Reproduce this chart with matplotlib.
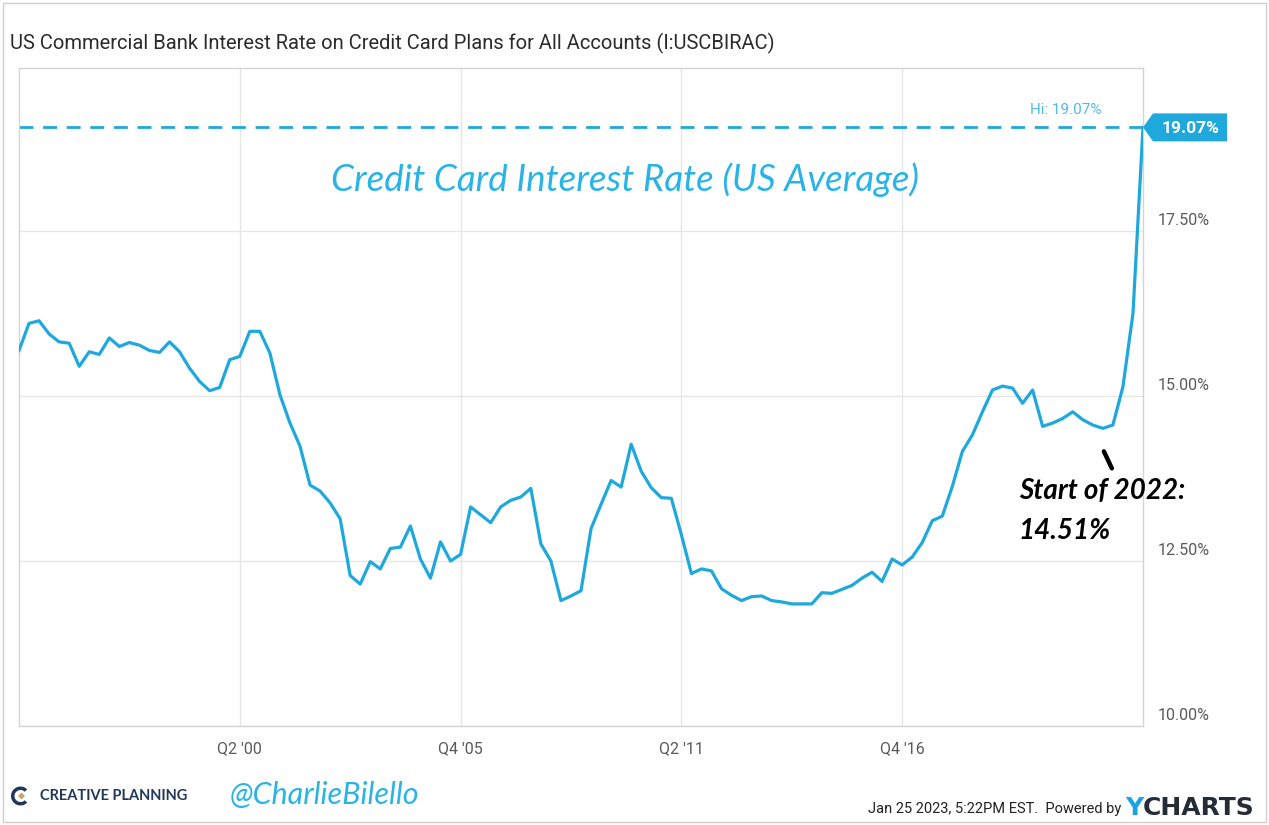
import matplotlib
matplotlib.use("Agg")
import matplotlib.pyplot as plt
import matplotlib.transforms as mtransforms
from matplotlib.patches import Polygon, Wedge, Rectangle
from matplotlib.lines import Line2D
import numpy as np
import pandas as pd

# Quarterly average credit card interest rate, all accounts (%), Q4 1994 - Q4 2022
rates = [
    15.69, 16.10, 16.14, 15.94, 15.82, 15.80, 15.45, 15.67, 15.63, 15.88,
    15.75, 15.81, 15.77, 15.69, 15.66, 15.82, 15.67, 15.42, 15.22, 15.08,
    15.13, 15.55, 15.60, 15.98, 15.98, 15.65, 15.02, 14.59, 14.24, 13.65,
    13.56, 13.38, 13.14, 12.28, 12.15, 12.49, 12.38, 12.69, 12.71, 13.03,
    12.53, 12.24, 12.79, 12.50, 12.60, 13.32, 13.20, 13.08, 13.32, 13.42,
    13.47, 13.60, 12.76, 12.50, 11.90, 11.97, 12.05, 12.99, 13.36, 13.72,
    13.62, 14.27, 13.86, 13.61, 13.46, 13.45, 12.90, 12.31, 12.38, 12.35,
    12.08, 11.98, 11.90, 11.96, 11.97, 11.90, 11.88, 11.85, 11.85, 11.85,
    12.02, 12.01, 12.07, 12.13, 12.24, 12.33, 12.19, 12.53, 12.44, 12.56,
    12.78, 13.11, 13.18, 13.63, 14.16, 14.41, 14.76, 15.09, 15.15, 15.12,
    14.89, 15.09, 14.54, 14.59, 14.66, 14.76, 14.64, 14.56, 14.51, 14.56,
    15.14, 16.25, 19.07,
]
first_quarter = "1994Q4"
tick_quarters = ["2000Q2", "2005Q4", "2011Q2", "2016Q4"]
tick_labels = ["Q2 '00", "Q4 '05", "Q2 '11", "Q4 '16"]
y_ticks = [10.0, 12.5, 15.0, 17.5]
y_tick_labels = ["10.00%", "12.50%", "15.00%", "17.50%"]
callout_quarter = "2021Q4"

title = "US Commercial Bank Interest Rate on Credit Card Plans for All Accounts (I:USCBIRAC)"
headline = "Credit Card Interest Rate (US Average)"
footer_stamp = "Jan 25 2023, 5:22PM EST.  Powered by "

BLUE = "#1fa8dc"
LIGHT_BLUE = "#4cbbe8"
GRID = "#e6e6e6"
SPINE = "#d4d4d4"
TICK_TEXT = "#5a5a5a"
NAVY = "#21385b"

COND = ["Liberation Sans Narrow", "Roboto", "DejaVu Sans"]
HAND = ["Lato", "DejaVu Sans"]


def quarter_to_year(p):
    p = pd.Period(p, freq="Q")
    return p.year + (p.quarter - 1) / 4


periods = pd.period_range(first_quarter, periods=len(rates), freq="Q")
x = np.array([quarter_to_year(p) for p in periods])
y = np.array(rates)

W, H = 1269, 825
fig = plt.figure(figsize=(W / 100, H / 100), dpi=100)
fig.patch.set_facecolor("white")

# plot area in pixel terms
left, right, top, bottom = 19, 1143, 68, 726
ax = fig.add_axes([left / W, 1 - bottom / H, (right - left) / W, (bottom - top) / H])
ax.set_xlim(x[0], x[-1])
ax.set_ylim(10, 10 + (bottom - top) / 66.0)

for s in ax.spines.values():
    s.set_color(SPINE)
    s.set_linewidth(1.0)

ax.set_yticks(y_ticks)
ax.set_xticks([quarter_to_year(q) for q in tick_quarters], tick_labels)
ax.grid(True, color=GRID, linewidth=1.0, zorder=0)
ax.tick_params(axis="y", length=0, labelleft=False, labelright=False)
ax.tick_params(axis="x", length=0, pad=11, labelcolor=TICK_TEXT, labelsize=11.5)
for lbl in ax.get_xticklabels():
    lbl.set_fontfamily(COND)

# right-hand value labels sitting just above their gridlines
for v, lab in zip(y_ticks, y_tick_labels):
    ax.annotate(lab, xy=(1, v), xycoords=("axes fraction", "data"),
                xytext=(15, 10), textcoords="offset pixels",
                ha="left", va="center", fontsize=11.5, color=TICK_TEXT,
                family=COND, annotation_clip=False)

# the series
ax.plot(x, y, color=BLUE, linewidth=2.3, solid_joinstyle="round", zorder=3)

# high-water mark
hi = y.max()
x_hi = x[np.argmax(y)]
ax.axhline(hi, color=BLUE, linewidth=2.0, dashes=(5, 3.5), zorder=2)
ax.annotate(f"Hi: {hi:.2f}%", xy=(x_hi, hi), xytext=(-41, 17),
            textcoords="offset pixels", ha="right", va="center",
            fontsize=11, color=LIGHT_BLUE, family=COND, annotation_clip=False)

# last-value tag on the right edge
tag_trans = fig.dpi_scale_trans + mtransforms.ScaledTranslation(x[-1], y[-1], ax.transData)
tag = Polygon([(0, 0), (0.10, 0.14), (0.84, 0.14), (0.84, -0.14), (0.10, -0.14)],
              closed=True, facecolor=BLUE, edgecolor="none",
              transform=tag_trans, clip_on=False, zorder=5)
ax.add_patch(tag)
ax.annotate(f"{y[-1]:.2f}%", xy=(x[-1], y[-1]), xytext=(48, -1),
            textcoords="offset pixels", ha="center", va="center",
            fontsize=12.5, fontweight="bold", color="white",
            family=["Roboto", "DejaVu Sans"], annotation_clip=False, zorder=6)

# headline written across the chart
ax.text(0.539, 0.83, headline, transform=ax.transAxes, ha="center", va="center",
        fontsize=26.5, color="#29b3e6", style="italic", family=HAND)

# callout for the start of 2022
xc = quarter_to_year(callout_quarter)
yc = y[list(periods.astype(str)).index(callout_quarter)]
call_trans = fig.dpi_scale_trans + mtransforms.ScaledTranslation(xc, yc, ax.transData)
ax.add_line(Line2D([0.01, 0.09], [-0.23, -0.40], color="black", linewidth=3.2,
                   solid_capstyle="round", transform=call_trans, clip_on=False))
ax.annotate("Start of 2022:", xy=(xc, yc), xytext=(-84, -63), textcoords="offset pixels",
            ha="left", va="center", fontsize=20, fontweight="bold", color="black",
            style="italic", family=HAND, annotation_clip=False)
ax.annotate(f"{yc:.2f}%", xy=(xc, yc), xytext=(-84, -103), textcoords="offset pixels",
            ha="left", va="center", fontsize=20, fontweight="bold", color="black",
            style="italic", family=HAND, annotation_clip=False)

# title
fig.text(10 / W, 1 - 43 / H, title, ha="left", va="center", fontsize=14.5,
         color="#2b2b2b", family=COND)

# footer: Creative Planning mark and handle
logo_trans = fig.dpi_scale_trans
fig.patches.append(Wedge((0.205, 0.29), 0.095, 45, 315, width=0.035, facecolor=NAVY,
                         edgecolor="none", transform=logo_trans, figure=fig))
fig.patches.append(Polygon([(0.215, 0.325), (0.25, 0.29), (0.215, 0.255), (0.18, 0.29)],
                           closed=True, facecolor="#c9a46a", edgecolor="none",
                           transform=logo_trans, figure=fig))
fig.text(40 / W, 1 - 796 / H, "CREATIVE PLANNING", ha="left", va="center",
         fontsize=10.5, fontweight="bold", color=NAVY, family=["Lato", "DejaVu Sans"])
fig.text(230 / W, 1 - 795 / H, "@CharlieBilello", ha="left", va="center",
         fontsize=22, color="#29b3e6", style="italic", family=HAND)

# footer: timestamp and YCharts wordmark
y_mark = fig.text(1125 / W, 1 - 808 / H, "Y", ha="left", va="center",
                  fontsize=18, fontweight="bold", color="#1aa3e0",
                  family=["DejaVu Sans"])
fig.add_artist(matplotlib.text.Annotation(
    "CHARTS", xy=(1, 0.5), xycoords=y_mark, ha="left", va="center",
    fontsize=18, fontweight="bold", color="#252c38", family=["DejaVu Sans"]))
fig.add_artist(matplotlib.text.Annotation(
    footer_stamp, xy=(0, 0.45), xycoords=y_mark, ha="right", va="center",
    fontsize=10.5, color="#222222", family=COND))

# thin frame around the whole image
fig.patches.append(Rectangle((3, 3), W - 6, H - 6, fill=False, edgecolor="#cfcfcf",
                             linewidth=1.0, transform=None, figure=fig))

fig.savefig("out.png", dpi=100)
